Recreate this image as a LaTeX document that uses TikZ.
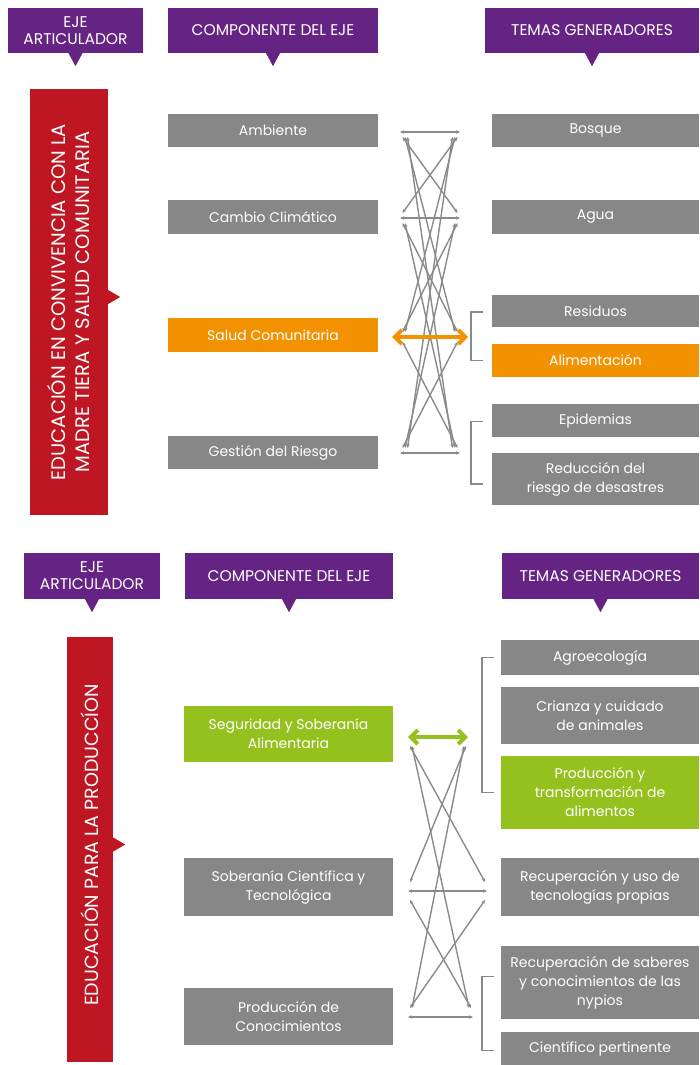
\documentclass[tikz,border=0pt]{standalone}
\usepackage{fontspec}
\setmainfont{Poppins}
\usetikzlibrary{arrows.meta,calc}

\definecolor{purp}{HTML}{652483}
\definecolor{rojo}{HTML}{BE1622}
\definecolor{gris}{HTML}{878787}
\definecolor{naranja}{HTML}{F39200}
\definecolor{verde}{HTML}{95C11F}
\definecolor{linea}{HTML}{8A8A8A}

\tikzset{
  caja/.style={fill=gris, text=white, inner sep=0pt, align=center, font=\fontsize{14}{19}\selectfont},
  titulo/.style={fill=purp, text=white, inner sep=0pt, align=center, font=\fontsize{15.5}{17}\selectfont},
  eje/.style={fill=rojo, text=white, inner sep=0pt},
  enlace/.style={draw=linea, line width=1.4pt, {Stealth[length=4pt,width=3.5pt]}-{Stealth[length=4pt,width=3.5pt]}},
  llave/.style={draw=linea, line width=1.5pt}
}

\begin{document}
\begin{tikzpicture}[x=1pt, y=-1pt]
\useasboundingbox (0,0) rectangle (699,1065);

% ---------- primera parte ----------
\node[titulo, minimum width=135, minimum height=45] (ejeA) at (75.5,30.5) {EJE\\ARTICULADOR};
\node[titulo, minimum width=210, minimum height=45] (compA) at (273,30.5) {COMPONENTE DEL EJE};
\node[titulo, minimum width=214, minimum height=45] (temaA) at (592,30.5) {TEMAS GENERADORES};
\foreach \h in {ejeA,compA,temaA}
  \fill[purp] ($(\h.south)+(-7,0)$) -- ($(\h.south)+(7,0)$) -- ($(\h.south)+(0,13)$) -- cycle;

\node[eje, minimum width=78, minimum height=426] (barA) at (69,302) {};
\fill[rojo] ($(barA.east)+(0,-12)$) -- ($(barA.east)+(12,-5)$) -- ($(barA.east)+(0,2)$) -- cycle;
\node[text=white, rotate=90, align=center, font=\fontsize{19.5}{24}\selectfont] (txtA) at (69,302)
  {EDUCACIÓN EN CONVIVENCIA CON LA\\MADRE TIERA Y SALUD COMUNITARIA};

\node[caja, minimum width=210, minimum height=33] (amb) at (273,130.5) {Ambiente};
\node[caja, minimum width=210, minimum height=34] (cam) at (273,217) {Cambio Climático};
\node[caja, fill=naranja, minimum width=210, minimum height=34] (sal) at (273,335) {Salud Comunitaria};
\node[caja, minimum width=210, minimum height=33] (ges) at (273,452.5) {Gestión del Riesgo};

\node[caja, minimum width=207, minimum height=33] (bos) at (595.5,130.5) {Bosque};
\node[caja, minimum width=207, minimum height=34] (agu) at (595.5,217) {Agua};
\node[caja, minimum width=207, minimum height=32] (res) at (595.5,311) {Residuos};
\node[caja, fill=naranja, minimum width=207, minimum height=33] (ali) at (595.5,360.5) {Alimentación};
\node[caja, minimum width=207, minimum height=33] (epi) at (595.5,420.5) {Epidemias};
\node[caja, minimum width=207, minimum height=52] (red) at (595.5,479) {Reducción del\\riesgo de desastres};

\draw[llave] ($(res.west)+(-9,1)$) -- ($(res.west)+(-21,1)$) -- ($(ali.west)+(-21,0)$) -- ($(ali.west)+(-9,0)$);
\draw[llave] ($(epi.west)+(-9,1)$) -- ($(epi.west)+(-21,1)$) -- ($(red.west)+(-21,5)$) -- ($(red.west)+(-9,5)$);

% puntos de enlace
\coordinate (a1) at (400,132); \coordinate (b1) at (460,132);
\coordinate (a2) at (400,218); \coordinate (b2) at (460,218);
\coordinate (a3) at (400,337); \coordinate (b3) at (460,337);
\coordinate (a4) at (400,453); \coordinate (b4) at (460,453);

\foreach \i in {1,...,4}
  \foreach \j in {1,...,4}{
    \ifnum\i=\j\relax\ifnum\i=3\relax\else
      \draw[enlace] (a\i) -- (b\j);
    \fi\else
      \pgfmathsetmacro{\dy}{\j>\i ? 5 : -5}
      \pgfmathsetmacro{\dx}{2.5*abs(\j-\i)}
      \draw[enlace] ($(a\i)+(\dx,\dy)$) -- ($(b\j)+(-\dx,-\dy)$);
    \fi
  }
\draw[draw=naranja, line width=4pt, {Straight Barb[length=7pt,width=14pt]}-{Straight Barb[length=7pt,width=14pt]}]
  ($(a3)+(-8,0)$) -- ($(b3)+(8,0)$);

% ---------- segunda parte ----------
\node[titulo, minimum width=136, minimum height=46] (ejeB) at (92,576) {EJE\\ARTICULADOR};
\node[titulo, minimum width=208, minimum height=46] (compB) at (289,576) {COMPONENTE DEL EJE};
\node[titulo, minimum width=197, minimum height=46] (temaB) at (600.5,576) {TEMAS GENERADORES};
\foreach \h in {ejeB,compB,temaB}
  \fill[purp] ($(\h.south)+(-7,0)$) -- ($(\h.south)+(7,0)$) -- ($(\h.south)+(0,13)$) -- cycle;

\node[eje, minimum width=46, minimum height=425] (barB) at (90,849.5) {};
\fill[rojo] ($(barB.east)+(0,-12)$) -- ($(barB.east)+(12,-5)$) -- ($(barB.east)+(0,2)$) -- cycle;
\node[text=white, rotate=90, font=\fontsize{19}{24}\selectfont] (txtB) at (90,845)
  {EDUCACIÓN PARA LA PRODUCCÍON};

\node[caja, fill=verde, minimum width=209, minimum height=56] (seg) at (288.5,734) {Seguridad y Soberanía\\Alimentaria};
\node[caja, minimum width=209, minimum height=58] (sob) at (288.5,887) {Soberanía Científica y\\Tecnológica};
\node[caja, minimum width=209, minimum height=57] (pco) at (288.5,1016.5) {Producción de\\Conocimientos};

\node[caja, minimum width=198, minimum height=35] (agr) at (600,657.5) {Agroecología};
\node[caja, minimum width=198, minimum height=57] (cri) at (600,715.5) {Crianza y cuidado\\de animales};
\node[caja, fill=verde, minimum width=198, minimum height=73] (pro) at (600,792.5) {Producción y\\transformación de\\alimentos};
\node[caja, minimum width=198, minimum height=58] (rec) at (600,887) {Recuperación y uso de\\tecnologías propias};
\node[caja, minimum width=198, minimum height=73] (sab) at (600,982.5) {Recuperación de saberes\\y conocimientos de las\\nypios};
\node[caja, minimum width=198, minimum height=33] (cie) at (600,1048.5) {Científico pertinente};

\draw[llave] ($(agr.west)+(-7,0)$) -- ($(agr.west)+(-19,0)$) -- ($(pro.west)+(-19,0)$) -- ($(pro.west)+(-7,0)$);
\draw[llave] ($(sab.west)+(-7,-6)$) -- ($(sab.west)+(-19,-6)$) -- ($(cie.west)+(-19,2)$) -- ($(cie.west)+(-7,2)$);

\coordinate (c1) at (408,737);  \coordinate (d1) at (468,737);
\coordinate (c2) at (408,891);  \coordinate (d2) at (487,891);
\coordinate (c3) at (408,1017); \coordinate (d3) at (473,1017);

\foreach \i in {1,2,3}
  \foreach \j in {1,2,3}{
    \ifnum\i=\j\relax\ifnum\i=1\relax\else
      \draw[enlace] (c\i) -- (d\j);
    \fi\else
      \pgfmathsetmacro{\dy}{\j>\i ? 9 : -9}
      \pgfmathsetmacro{\dx}{2*abs(\j-\i)}
      \draw[enlace] ($(c\i)+(\dx,\dy)$) -- ($(d\j)+(-\dx,-\dy)$);
    \fi
  }
\draw[draw=verde, line width=4pt, {Straight Barb[length=7pt,width=14pt]}-{Straight Barb[length=7pt,width=14pt]}]
  (c1) -- (d1);

\end{tikzpicture}
\end{document}
